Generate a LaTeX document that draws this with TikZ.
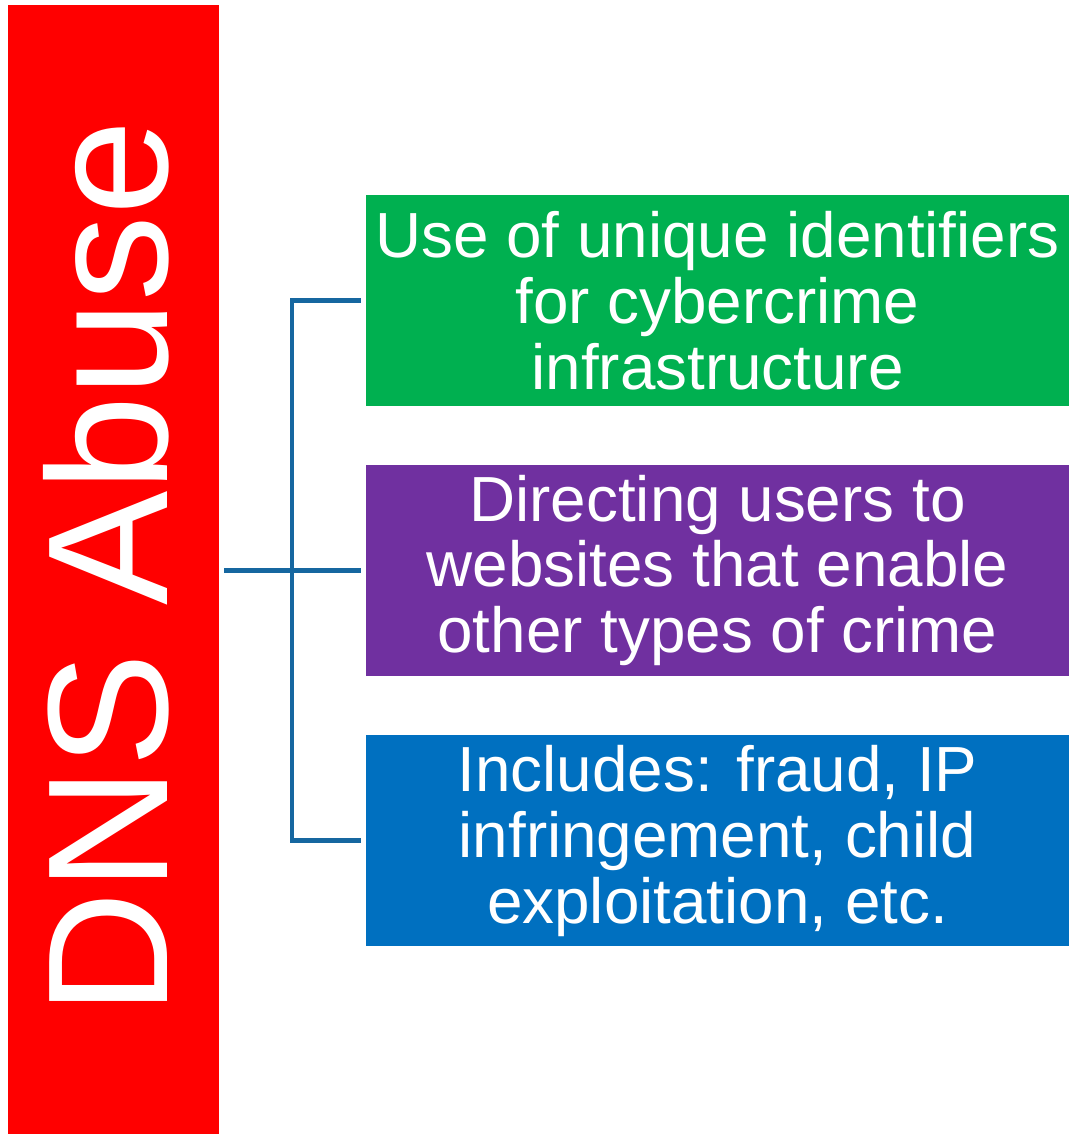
\documentclass[tikz,border=0pt]{standalone}
\usepackage{fontspec}
\setmainfont{Liberation Sans}
\usetikzlibrary{positioning}
\definecolor{abusered}{RGB}{255,0,0}
\definecolor{infragreen}{RGB}{0,176,80}
\definecolor{redirectpurple}{RGB}{112,48,160}
\definecolor{crimeblue}{RGB}{0,112,192}
\definecolor{linkblue}{RGB}{22,103,160}
\tikzset{main box/.style={rectangle,text=white,minimum width=14.06cm,minimum height=4.22cm,inner sep=0pt,align=center,font=\fontsize{36.3}{37.4}\selectfont},
link/.style={draw=linkblue,line width=2.83pt,shorten <=0.1cm,shorten >=0.1cm} }

\begin{document}
\begin{tikzpicture}[x=0.02cm,y=-0.02cm]
\useasboundingbox (0,0) rectangle (1069,1134);
\begin{scope}[on grid]

  \node[main box,fill=infragreen] (infra) at (717.5,300.5) {Use of unique identifiers\\for cybercrime\\infrastructure};
  \node[main box,fill=redirectpurple] (redirect) [below = 5.4cm of infra] {Directing users to\\websites that enable\\other types of crime};
  \node[main box,fill=crimeblue] (crimes) [below = 5.41cm of redirect] {Includes: fraud, IP\\infringement, child\\exploitation, etc.};
  \node[rectangle,fill=abusered,minimum width=4.22cm,minimum height=22.58cm,inner sep=0pt] (abuse) at (113.5,569.5) {};
  \node[rotate=90,anchor=base,text=white,font=\fontsize{97.5}{100}\selectfont] (title) at (167,567.5) {DNS Abuse};

  \coordinate (trunk) at (292,0);
  \draw[link] (abuse.east |- redirect.west) -- (redirect.west);
  \draw[link] (infra.west) -- (infra.west -| trunk) -- (crimes.west -| trunk) -- (crimes.west);

\end{scope}
\end{tikzpicture}
\end{document}
